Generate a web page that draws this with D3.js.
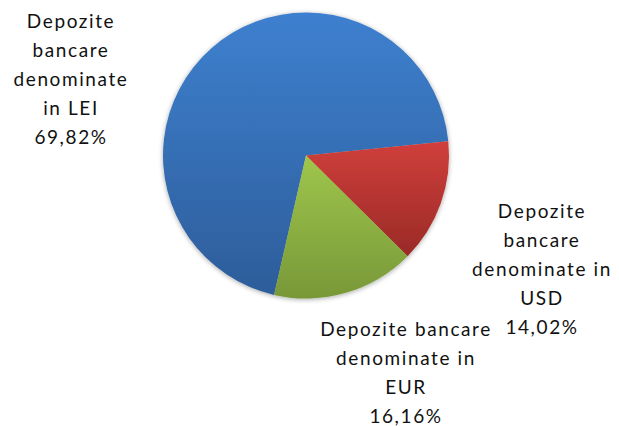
<!DOCTYPE html>
<html>
<head>
<meta charset="utf-8">
<script src="https://cdn.jsdelivr.net/npm/d3@7"></script>
<style>
  body { margin: 0; background: #fff; }
  text { font-family: Lato, "Open Sans", sans-serif; fill: #111; }
</style>
</head>
<body>
<div id="chart"></div>
<script>
// data
const categories = ["LEI", "USD", "EUR"];
const shares = [69.82, 14.02, 16.16];
const labelLines = [
    ["Depozite", "bancare", "denominate", "in LEI"],
    ["Depozite", "bancare", "denominate in", "USD"],
    ["Depozite bancare", "denominate in", "EUR"]
];
const valueLabels = ["69,82%", "14,02%", "16,16%"];

// colours: top / bottom of each slice gradient
const topColors = ["#3e80cf", "#d03f3b", "#9fc64c"];
const bottomColors = ["#2d5d9a", "#9a2a27", "#789838"];

document.addEventListener("DOMContentLoaded", function () {
    const width = 619, height = 426;
    const cx = 306, cy = 155.5, radius = 143;

    const svg = d3.select("#chart")
        .append("svg")
        .attr("width", width)
        .attr("height", height);

    const defs = svg.append("defs");

    // soft shadow around the pie
    const shadow = defs.append("filter").attr("id", "shadow")
        .attr("x", "-10%").attr("y", "-10%").attr("width", "120%").attr("height", "120%");
    shadow.append("feGaussianBlur").attr("in", "SourceAlpha").attr("stdDeviation", 2.5);
    shadow.append("feOffset").attr("dx", 0).attr("dy", 1).attr("result", "blur");
    shadow.append("feComponentTransfer").append("feFuncA").attr("type", "linear").attr("slope", 0.35);
    const merge = shadow.append("feMerge");
    merge.append("feMergeNode");
    merge.append("feMergeNode").attr("in", "SourceGraphic");

    categories.forEach((c, i) => {
        const g = defs.append("linearGradient")
            .attr("id", "grad-" + c)
            .attr("x1", 0).attr("y1", 0).attr("x2", 0).attr("y2", 1);
        g.append("stop").attr("offset", "0%").attr("stop-color", topColors[i]);
        g.append("stop").attr("offset", "100%").attr("stop-color", bottomColors[i]);
    });

    const startDeg = 192.9;
    const pie = d3.pie()
        .sort(null)
        .value(d => d)
        .startAngle(startDeg * Math.PI / 180)
        .endAngle((startDeg + 360) * Math.PI / 180);

    const arc = d3.arc().innerRadius(0).outerRadius(radius);

    const pieG = svg.append("g")
        .attr("transform", `translate(${cx},${cy})`)
        .attr("filter", "url(#shadow)");

    pieG.selectAll("path")
        .data(pie(shares))
        .enter()
        .append("path")
        .attr("d", arc)
        .attr("fill", (d, i) => `url(#grad-${categories[i]})`);

    // data labels (anchor = centre x, first baseline)
    const labelPos = [[71, 28], [542, 218], [406, 336]];
    const lineH = 29;

    categories.forEach((c, i) => {
        const lines = labelLines[i].concat([valueLabels[i]]);
        const t = svg.append("text")
            .attr("x", labelPos[i][0])
            .attr("y", labelPos[i][1])
            .attr("text-anchor", "middle")
            .attr("font-size", "19px")
            .attr("letter-spacing", "1.6px");
        t.selectAll("tspan")
            .data(lines)
            .enter()
            .append("tspan")
            .attr("x", labelPos[i][0])
            .attr("dy", (d, j) => j === 0 ? 0 : lineH)
            .text(d => d);
    });
});
</script>
</body>
</html>
